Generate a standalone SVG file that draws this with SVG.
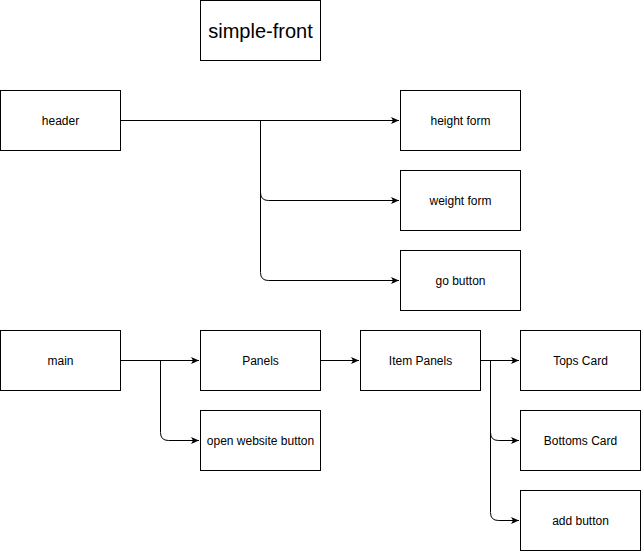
<svg xmlns="http://www.w3.org/2000/svg" width="641" height="551" viewBox="0 0 641 551">
<style>
.box{fill:#fff;stroke:#000;stroke-width:1}
.lbl{font-family:"Liberation Sans",Arial,sans-serif;font-size:12px;fill:#000;text-anchor:middle;dominant-baseline:central}
.title{font-size:20px}
.edge{fill:none;stroke:#000;stroke-width:1}
</style>
<defs>
<marker id="arr" markerUnits="userSpaceOnUse" markerWidth="9" markerHeight="8" viewBox="0 0 9 8" refX="8" refY="4" orient="auto">
<path d="M0,0.5 L8,4 L0,7.5 L2,4 Z" fill="#000"/>
</marker>
</defs>
<rect width="641" height="551" fill="#fff"/>
<g id="connectors">
<path class="edge" d="M120.5,120.5 L399,120.5" marker-end="url(#arr)"/>
<path class="edge" d="M260.5,120.5 L260.5,192.5 Q260.5,200.5 268.5,200.5 L399,200.5" marker-end="url(#arr)"/>
<path class="edge" d="M260.5,120.5 L260.5,272.5 Q260.5,280.5 268.5,280.5 L399,280.5" marker-end="url(#arr)"/>
<path class="edge" d="M120.5,360.5 L199,360.5" marker-end="url(#arr)"/>
<path class="edge" d="M160.5,360.5 L160.5,432.5 Q160.5,440.5 168.5,440.5 L199,440.5" marker-end="url(#arr)"/>
<path class="edge" d="M320.5,360.5 L359,360.5" marker-end="url(#arr)"/>
<path class="edge" d="M480.5,360.5 L519,360.5" marker-end="url(#arr)"/>
<path class="edge" d="M490.5,360.5 L490.5,432.5 Q490.5,440.5 498.5,440.5 L519,440.5" marker-end="url(#arr)"/>
<path class="edge" d="M490.5,360.5 L490.5,512.5 Q490.5,520.5 498.5,520.5 L519,520.5" marker-end="url(#arr)"/>
</g>
<g id="simple-front"><rect class="box" x="200.5" y="0.5" width="120" height="60"/><text class="lbl title" x="260.5" y="30.5">simple-front</text></g>
<g id="header"><rect class="box" x="0.5" y="90.5" width="120" height="60"/><text class="lbl" x="60.5" y="120.5">header</text></g>
<g id="height-form"><rect class="box" x="400.5" y="90.5" width="120" height="60"/><text class="lbl" x="460.5" y="120.5">height form</text></g>
<g id="weight-form"><rect class="box" x="400.5" y="170.5" width="120" height="60"/><text class="lbl" x="460.5" y="200.5">weight form</text></g>
<g id="go-button"><rect class="box" x="400.5" y="250.5" width="120" height="60"/><text class="lbl" x="460.5" y="280.5">go button</text></g>
<g id="main"><rect class="box" x="0.5" y="330.5" width="120" height="60"/><text class="lbl" x="60.5" y="360.5">main</text></g>
<g id="panels"><rect class="box" x="200.5" y="330.5" width="120" height="60"/><text class="lbl" x="260.5" y="360.5">Panels</text></g>
<g id="open-website-button"><rect class="box" x="200.5" y="410.5" width="120" height="60"/><text class="lbl" x="260.5" y="440.5">open website button</text></g>
<g id="item-panels"><rect class="box" x="360.5" y="330.5" width="120" height="60"/><text class="lbl" x="420.5" y="360.5">Item Panels</text></g>
<g id="tops-card"><rect class="box" x="520.5" y="330.5" width="120" height="60"/><text class="lbl" x="580.5" y="360.5">Tops Card</text></g>
<g id="bottoms-card"><rect class="box" x="520.5" y="410.5" width="120" height="60"/><text class="lbl" x="580.5" y="440.5">Bottoms Card</text></g>
<g id="add-button"><rect class="box" x="520.5" y="490.5" width="120" height="60"/><text class="lbl" x="580.5" y="520.5">add button</text></g>
</svg>
